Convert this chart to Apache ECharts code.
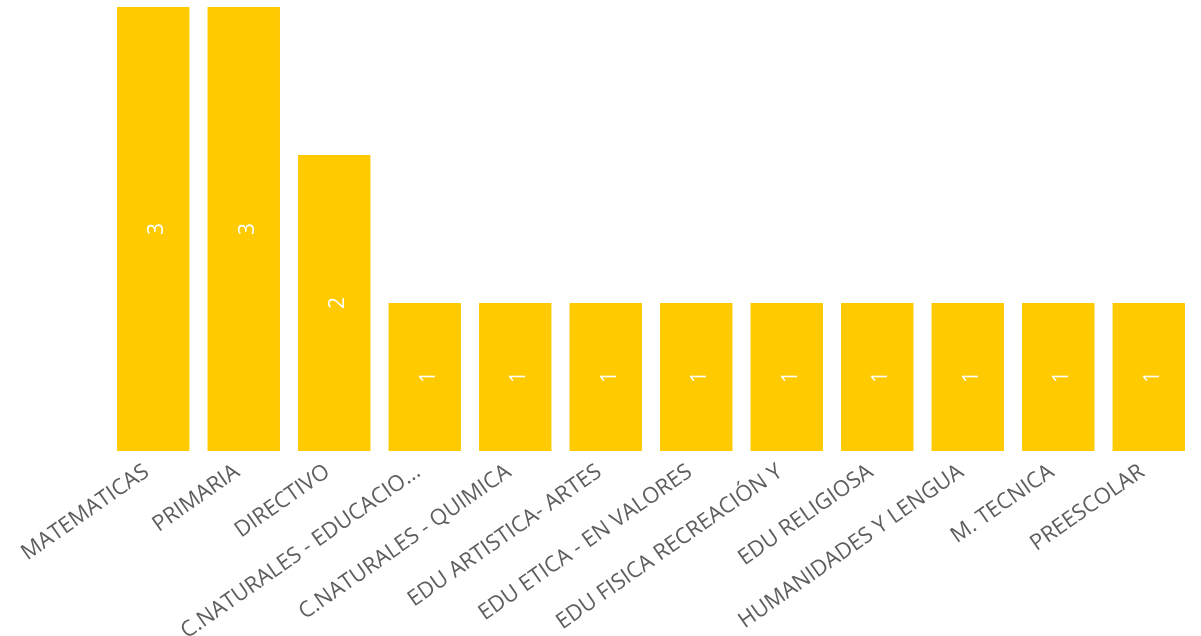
<!DOCTYPE html>
<html><head><meta charset="utf-8">
<script src="https://cdn.jsdelivr.net/npm/echarts@6/dist/echarts.min.js"></script>
<style>html,body{margin:0;padding:0;background:#fff}#c{width:1201px;height:636px}</style>
</head><body><div id="c"></div>
<script>
const categories = ["MATEMATICAS","PRIMARIA","DIRECTIVO","C.NATURALES - EDUCACIO...","C.NATURALES - QUIMICA","EDU ARTISTICA- ARTES","EDU ETICA - EN VALORES","EDU FISICA RECREACIÓN Y","EDU RELIGIOSA","HUMANIDADES Y LENGUA","M. TECNICA","PREESCOLAR"];
const values = [3,3,2,1,1,1,1,1,1,1,1,1];
const chart = echarts.init(document.getElementById('c'));
chart.setOption({
  animation:false,
  grid:{left:108,right:7,top:7,bottom:185,containLabel:false,outerBoundsMode:'none'},
  xAxis:{type:'category',data:categories,axisLine:{show:false},axisTick:{show:false},
    axisLabel:{interval:0,rotate:35,color:'#605e5c',fontSize:22,fontFamily:'Open Sans',margin:14,padding:[0,8,0,0]}},
  yAxis:{type:'value',min:0,max:3,show:false,splitLine:{show:false}},
  series:[{type:'bar',data:values,barCategoryGap:'20%',itemStyle:{color:'#FFCA00'},
    label:{show:true,position:'inside',rotate:90,offset:[0,4],color:'#fff',fontSize:21,fontFamily:'Open Sans'}}]
});
</script></body></html>
